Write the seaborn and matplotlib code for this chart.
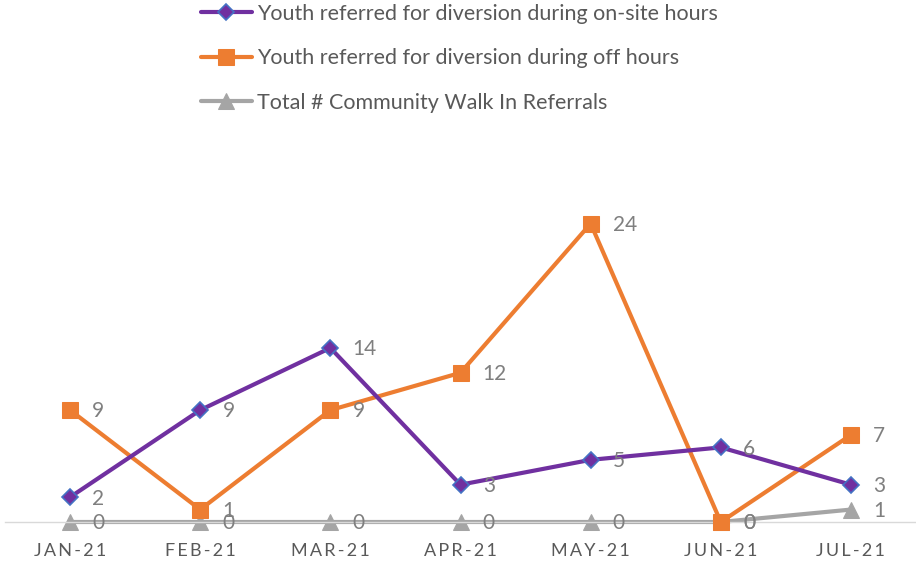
import pandas as pd
import seaborn as sns
import matplotlib.pyplot as plt

# Data
months = ['JAN-21', 'FEB-21', 'MAR-21', 'APR-21', 'MAY-21', 'JUN-21', 'JUL-21']
on_site = [2, 9, 14, 3, 5, 6, 3]
off_hours = [9, 1, 9, 12, 24, 0, 7]
walk_in = [0, 0, 0, 0, 0, 0, 1]

labels = ['Youth referred for diversion during on-site hours',
          'Youth referred for diversion during off hours',
          'Total # Community Walk In Referrals']

sns.set_style('white')
plt.rcParams['font.family'] = ['Lato', 'DejaVu Sans']

fig = plt.figure(figsize=(9.16, 5.62), dpi=100)
ax = fig.add_axes([5 / 916, 40 / 562, 911 / 916, (522 - 149) / 562])

df = pd.DataFrame({'month': months, 'on': on_site, 'off': off_hours, 'walk': walk_in})
df['pos'] = range(len(months))

# draw in back-to-front order
sns.lineplot(data=df, x='pos', y='walk', ax=ax, color='#A5A5A5', lw=3,
             marker='^', markersize=11, markeredgecolor='#A5A5A5', label=labels[2],
             zorder=2, clip_on=False)
sns.lineplot(data=df, x='pos', y='off', ax=ax, color='#ED7D31', lw=3,
             marker='s', markersize=12, markeredgecolor='#ED7D31', label=labels[1],
             zorder=3, clip_on=False)
sns.lineplot(data=df, x='pos', y='on', ax=ax, color='#7030A0', lw=3,
             marker='D', markersize=8, markeredgecolor='#4472C4', markeredgewidth=1.2,
             label=labels[0], zorder=4, clip_on=False)

# data labels
for col in ['on', 'off', 'walk']:
    for x, v in zip(df['pos'], df[col]):
        ax.annotate(str(v), (x, v), xytext=(16, -1), textcoords='offset points',
                    ha='left', va='center', fontsize=15, color='#7F7F7F', zorder=5)

ax.set_xlim(-0.5, len(months) - 0.5)
ax.set_ylim(0, 30)
ax.set_xticks(df['pos'])
# letter-spaced month labels
ax.set_xticklabels(['\u2009'.join(m) for m in months], fontsize=13, color='#595959')
ax.tick_params(axis='x', length=0, pad=15)
ax.set_yticks([])
ax.set_xlabel('')
ax.set_ylabel('')
for s in ['top', 'left', 'right']:
    ax.spines[s].set_visible(False)
ax.spines['bottom'].set_color('#D9D9D9')
ax.spines['bottom'].set_linewidth(1)

# legend at the top, in the same order as the reference
h, l = ax.get_legend_handles_labels()
ax.get_legend().remove()
order = [2, 1, 0]
leg = fig.legend([h[i] for i in order], [l[i] for i in order], loc='upper left',
                 bbox_to_anchor=(192 / 916, 1.0 + 5 / 562), frameon=False, fontsize=15.5,
                 labelspacing=1.14, handlelength=2.4, handletextpad=0.23, borderaxespad=0)
for t in leg.get_texts():
    t.set_color('#595959')

fig.savefig('out.png', dpi=100)
